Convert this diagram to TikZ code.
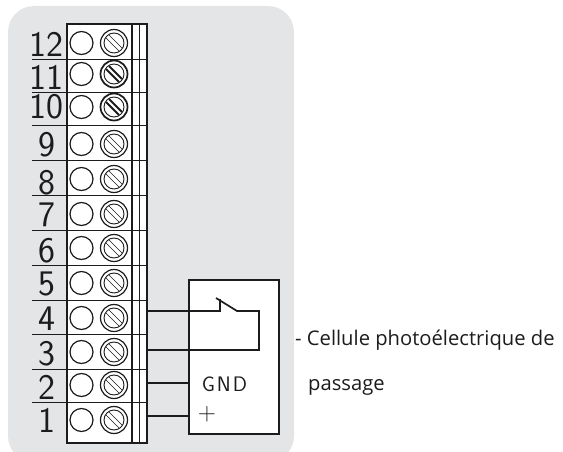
\documentclass[tikz,border=0pt]{standalone}
\usepackage{fontspec}
\newfontfamily\labelfont{Open Sans}
\definecolor{panelgray}{HTML}{E4E5E7}
\definecolor{inkgray}{HTML}{1C1C1C}
\tikzset{
  blockline/.style={draw=inkgray,line width=1.4pt},
  rowline/.style={draw=inkgray,line width=0.9pt},
  wire/.style={draw=inkgray,line width=1.7pt},
  rownum/.style={anchor=base,inner sep=0pt,text=inkgray,font=\sffamily\fontsize{36}{36}\selectfont},
  boxlabel/.style={inner sep=0pt,text=inkgray,font=\sffamily\fontsize{21}{21}\selectfont},
  sidetext/.style={anchor=base west,inner sep=0pt,text=inkgray,font=\labelfont\fontsize{20.2}{21}\selectfont},
}
\begin{document}
\begin{tikzpicture}[x=1pt,y=-1pt]
  \useasboundingbox (0,0) rectangle (563,452);
  \clip (0,0) rectangle (563,452);
  \fill[panelgray,rounded corners=26pt] (8,6) rectangle (294,462);
  % terminal block
  \draw[blockline,fill=white] (67,24) rectangle (147,443);
  \draw[blockline] (132,24) -- (132,443) (139.5,24) -- (139.5,443);
  \foreach \yy in {59,92,125,160,195,230,265,300,334,369,402}
    \draw[rowline] (32,\yy) -- (147,\yy);
  % rows
  \foreach \num/\yy/\base/\slot/\ring in {12/43/57/0.7/1.2,11/74/90/1.8/1.7,10/107/119/1.8/1.7,9/144/157/0.7/1.2,8/179/194/0.7/1.2,7/214/226/0.7/1.2,6/248/262/0.7/1.2,5/283/295/0.7/1.2,4/318/330/0.7/1.2,3/352/365/0.7/1.2,2/385/399/0.7/1.2,1/420/432/0.7/1.2} {
    \node[rownum] (n\num) at (46.5,\base) {\num};
    \draw[inkgray,line width=1.2pt] (81.5,\yy) circle (11.5);
    \draw[inkgray,line width=\ring pt] (114,\yy) circle (13.5);
    \draw[inkgray,line width=0.9pt] (114,\yy) circle (10);
    \draw[inkgray,line width=\slot pt] (109,\yy-8) -- (122,\yy+5) (106,\yy-5) -- (119,\yy+8);
  }
  % photocell
  \node[draw=inkgray,fill=white,line width=1.6pt,minimum width=90pt,minimum height=154pt,inner sep=0pt] (cell) at (234,357) {};
  \coordinate (t4) at (147,311);
  \coordinate (t3) at (147,350);
  \coordinate (t2) at (147,383);
  \coordinate (t1) at (147,416);
  \coordinate (pivot) at (216,298);
  \coordinate (blade) at (237,311);
  \draw[wire] (t4) -- (220,311) -- (220,299);
  \draw[wire] (pivot) -- (blade) -- (259,311) -- (259,350) -- (t3);
  \node[boxlabel] (gnd) at (224.5,384) {G\kern2pt N\kern2pt D};
  \node[boxlabel,font=\sffamily\fontsize{25}{25}\selectfont] (plus) at (207,414) {+};
  \draw[wire] (t2) -- (t2 -| cell.west);
  \draw[wire] (t1) -- (t1 -| cell.west);
  % label
  \node[sidetext] (desc) at (295,345) {- Cellule photoélectrique de};
  \node[sidetext] (desc2) at (308,390) {passage};
\end{tikzpicture}
\end{document}
